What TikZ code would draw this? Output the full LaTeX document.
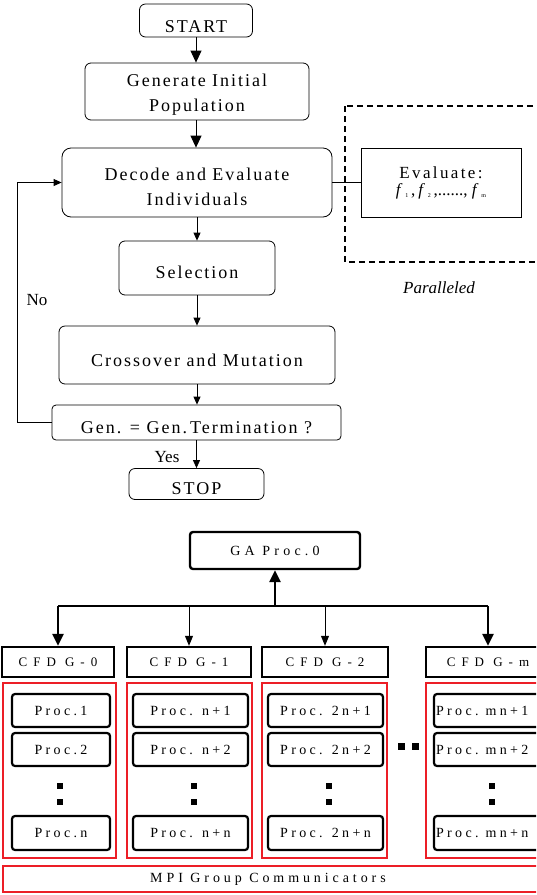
\documentclass[tikz,border=0pt]{standalone}
\usepackage{fontspec}
\setmainfont{Liberation Serif}
\newfontfamily\spA[LetterSpace=11]{Liberation Serif}
\newfontfamily\spE[LetterSpace=14]{Liberation Serif}
\newfontfamily\spP[LetterSpace=24]{Liberation Serif}
\newfontfamily\spC[LetterSpace=46]{Liberation Serif}
\newfontfamily\spG[LetterSpace=30]{Liberation Serif}
\newfontfamily\spM[LetterSpace=28]{Liberation Serif}
\usetikzlibrary{arrows.meta}
\definecolor{redline}{RGB}{236,30,38}
\newcommand\fsub[1]{\textit{f}\,\raisebox{-2.5pt}{\fontsize{6}{6}\selectfont #1}}
\begin{document}
\begin{tikzpicture}[x=1pt,y=-1pt,
  flow/.style={draw, line width=0.8pt, rounded corners=6pt, inner sep=0pt, align=center,
    font={\spA\fontsize{18}{25}\selectfont}},
  flowone/.style={flow, text height=21pt, text depth=0pt},
  bigarr/.style={line width=0.9pt, -{Triangle[length=12pt,width=11pt]}},
  smallarr/.style={line width=0.8pt, -{Triangle[length=8pt,width=7pt]}},
  plain/.style={font={\fontsize{17}{20}\selectfont}, inner sep=0pt},
  gbox/.style={draw, line width=2.4pt, rounded corners=3pt, inner sep=0pt,
    font={\spG\fontsize{14}{16}\selectfont}},
  cfdbox/.style={draw, line width=2.4pt, inner sep=0pt, minimum height=30pt,
    font={\spC\fontsize{13}{15}\selectfont}},
  grpbox/.style={draw=redline, line width=2pt, inner sep=0pt, minimum height=175pt},
  pbox/.style={draw, line width=2.2pt, rounded corners=3pt, inner sep=0pt, minimum height=33pt,
    font={\spP\fontsize{14}{16}\selectfont}},
  thickarr/.style={line width=2.4pt, -{Triangle[length=12pt,width=11pt]}},
  thinarr/.style={line width=1pt, -{Triangle[length=10pt,width=8pt]}},
  dotsq/.style={fill=black}
]
\useasboundingbox (0,0) rectangle (536,895);
\clip (0,0) rectangle (536,895);

% ---------- top flowchart ----------
\node[flowone, text height=23pt, minimum width=113pt, minimum height=33pt] (start) at (196,20.5) {START};
\node[flow, minimum width=224pt, minimum height=57pt] (gen) at (197,91.5) {\rule{0pt}{18.4pt}Generate Initial\\Population};
\node[flow, rounded corners=9pt, minimum width=270pt, minimum height=69pt] (dec) at (197,182.5) {\rule{0pt}{20.5pt}Decode and Evaluate\\Individuals};
\node[flowone, text height=20pt, minimum width=156pt, minimum height=54pt] (sel) at (197,268) {Selection};
\node[flowone, text height=22pt, minimum width=276pt, minimum height=58pt] (cro) at (197,355) {Crossover and Mutation};
\node[flowone, text height=22pt, rounded corners=4pt, minimum width=289pt, minimum height=35pt] (gt) at (196.5,422.5) {Gen. = Gen.\,Termination ?};
\node[flowone, text height=20pt, minimum width=135pt, minimum height=31pt] (stop) at (196.5,484) {STOP};

\node[draw, line width=0.6pt, inner sep=0pt, minimum width=160pt, minimum height=69pt, align=center,
  font={\fontsize{17}{17}\selectfont}] (ev) at (441,182.5) {{\spE Evaluate:}\\\fsub{1}\,,\,\fsub{2}\,,......,\ \fsub{m}};

\draw[line width=1.6pt, dash pattern=on 6pt off 4pt] (345,106) rectangle (548,262);

\draw[bigarr] (start.south) -- (start.south |- gen.north);
\draw[bigarr] (gen.south -| start.south) -- (start.south |- dec.north);
\draw[smallarr] (dec.south) -- (dec.south |- sel.north);
\draw[smallarr] (sel.south) -- (sel.south |- cro.north);
\draw[smallarr] (cro.south) -- (cro.south |- gt.north);
\draw[smallarr] (gt.south) -- (gt.south |- stop.north);
\draw[line width=0.6pt] (dec.east) -- (ev.west);
\draw[smallarr] (gt.west) -- ++(-34,0) |- (dec.west);

\node[plain] (no) at (37,300) {No};
\node[plain] (yes) at (167,457) {Yes};
\node[plain, font={\itshape\fontsize{17}{20}\selectfont}] (par) at (439,288) {Paralleled};

% ---------- bottom diagram ----------
\node[gbox, minimum width=170pt, minimum height=37pt] (ga) at (275,550.5) {GA Proc.0};
\node[cfdbox, minimum width=112pt] (c0) at (58,662) {CFD G-0};
\node[cfdbox, minimum width=124pt] (c1) at (189,662) {CFD G-1};
\node[cfdbox, minimum width=126pt] (c2) at (325,662) {CFD G-2};
\node[cfdbox, minimum width=124pt] (cm) at (488,662) {CFD G-m};

\coordinate (bus) at (275,606);
\draw[line width=1.8pt] (c0.north |- bus) -- (cm.north |- bus);
\draw[thickarr] (bus) -- (ga.south);
\draw[thickarr] (c0.north |- bus) -- (c0.north);
\draw[thinarr] (c1.north |- bus) -- (c1.north);
\draw[thinarr] (c2.north |- bus) -- (c2.north);
\draw[thickarr] (cm.north |- bus) -- (cm.north);

\node[grpbox, minimum width=113pt] (g0) at (59.5,770.5) {};
\node[grpbox, minimum width=125pt] (g1) at (189.5,770.5) {};
\node[grpbox, minimum width=125pt] (g2) at (324.5,770.5) {};
\node[grpbox, minimum width=124pt] (gm) at (488,770.5) {};

\node[pbox, minimum width=98pt] (p01) at (61,710.5) {Proc.1};
\node[pbox, minimum width=98pt] (p02) at (61,749.5) {Proc.2};
\node[pbox, minimum width=98pt, minimum height=34pt] (p0n) at (61,833) {Proc.n};

\node[pbox, minimum width=115pt] (p11) at (190.5,710.5) {Proc. n+1};
\node[pbox, minimum width=115pt] (p12) at (190.5,749.5) {Proc. n+2};
\node[pbox, minimum width=115pt, minimum height=34pt] (p1n) at (190.5,833) {Proc. n+n};

\node[pbox, minimum width=115pt] (p21) at (325.5,710.5) {Proc. 2n+1};
\node[pbox, minimum width=115pt] (p22) at (325.5,749.5) {Proc. 2n+2};
\node[pbox, minimum width=115pt, minimum height=34pt] (p2n) at (325.5,833) {Proc. 2n+n};

\node[pbox, inner xsep=2pt, text width=120pt, align=left] (pm1) at (496,710.5) {Proc. mn+1};
\node[pbox, inner xsep=2pt, text width=120pt, align=left] (pm2) at (496,749.5) {Proc. mn+2};
\node[pbox, inner xsep=2pt, text width=120pt, align=left, minimum height=34pt] (pmn) at (496,833) {Proc. mn+n};

\foreach \cx in {60,194,329,492}{
  \fill[dotsq] (\cx-3,783) rectangle (\cx+3,789);
  \fill[dotsq] (\cx-3,799) rectangle (\cx+3,805);
}
\fill[dotsq] (397.5,743) rectangle (404.5,749.5);
\fill[dotsq] (411.5,743) rectangle (418.5,749.5);

\node[draw=redline, line width=2pt, inner sep=0pt, minimum width=538pt, minimum height=26pt] (mpi) at (272,879) {};
\node[font={\spM\fontsize{14}{16}\selectfont}, inner sep=0pt] (mpit) at (268,879) {MPI Group Communicators};
\end{tikzpicture}
\end{document}
